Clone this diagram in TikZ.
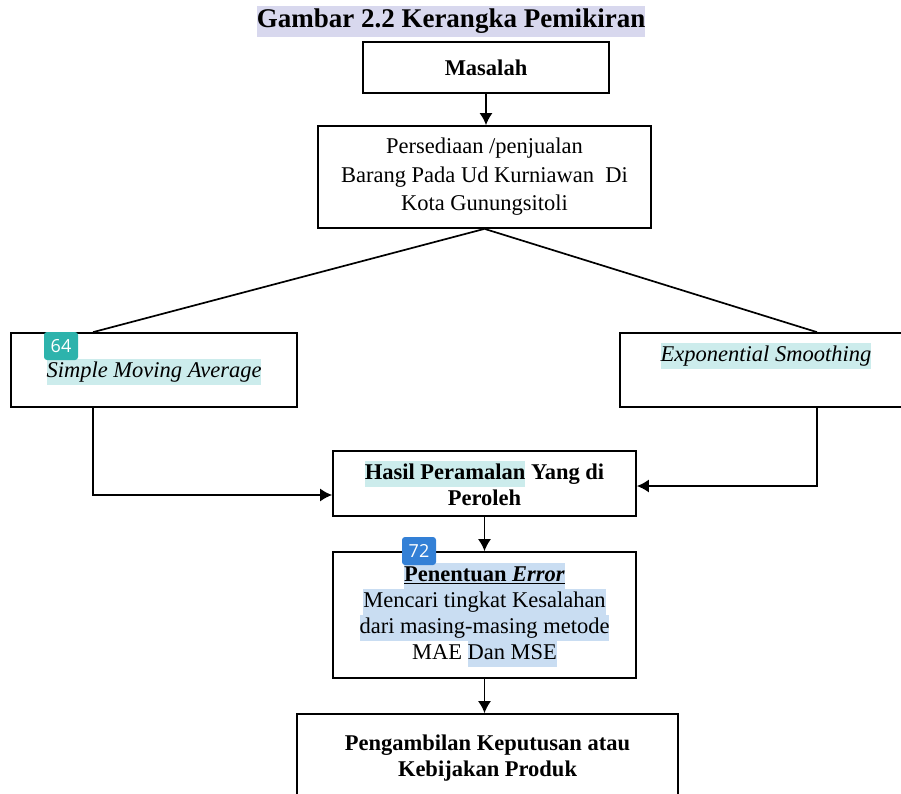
\documentclass[tikz,border=0pt]{standalone}
\usepackage{fontspec}
\setmainfont{Liberation Serif}
\newfontfamily\badgefont{Open Sans}
\usetikzlibrary{arrows.meta}

\definecolor{titlehl}{HTML}{D8D8EE}
\definecolor{tealhl}{HTML}{CCECEC}
\definecolor{bluehl}{HTML}{C9DDF2}
\definecolor{tealbadge}{HTML}{2DB3AC}
\definecolor{bluebadge}{HTML}{3380D6}
\newcommand\hlbox[2]{{\setlength\fboxsep{0pt}\colorbox{#1}{\strut #2}}}

\begin{document}
\begin{tikzpicture}[x=1pt,y=-1pt,
  box/.style={draw,line width=1.7pt,inner sep=0pt,align=center},
  arr/.style={-{Latex[length=12pt,width=13pt]},line width=1.7pt},
  ln/.style={line width=1.7pt},
  badge/.style={fill=#1,text=white,rounded corners=3pt,inner sep=0pt,
    minimum width=34pt,minimum height=28pt,font=\badgefont\fontsize{18}{18}\selectfont}]

  \fontsize{22.5}{26}\selectfont

  \useasboundingbox (0,0) rectangle (901,793);
  \clip (0,0) rectangle (901,793);

  \node (title) at (451,21) {\fontsize{27}{31}\selectfont\bfseries\hlbox{titlehl}{Gambar 2.2 Kerangka Pemikiran}};

  \node[box,minimum width=246,minimum height=51] (masalah) at (486,67.5) {\textbf{Masalah}};
  \node[box,minimum width=333,minimum height=102,font=\fontsize{22.5}{28.5}\selectfont] (stok) at (484.5,177)
    {Persediaan /penjualan\\Barang Pada Ud Kurniawan~ Di\\Kota Gunungsitoli};

  \node[box,minimum width=286,minimum height=74] (sma) at (154,370) {};
  \node (smatext) at (154,372) {\hlbox{tealhl}{\itshape Simple Moving Average}};
  \node[box,minimum width=292,minimum height=74] (es) at (766,370) {};
  \node (estext) at (766,356) {\hlbox{tealhl}{\itshape Exponential Smoothing}};

  \node[box,minimum width=303,minimum height=65] (hasil) at (484.5,483.5)
    {\textbf{\hlbox{tealhl}{Hasil Peramalan} Yang di}\\\textbf{Peroleh}};
  \node[box,minimum width=303,minimum height=126] (error) at (484.5,615)
    {\hlbox{bluehl}{\underline{\textbf{Penentuan \textit{Error}}}}\\
     \hlbox{bluehl}{Mencari tingkat Kesalahan}\\
     \hlbox{bluehl}{dari masing-masing metode}\\
     MAE \hlbox{bluehl}{Dan MSE}};
  \node[box,minimum width=381,minimum height=88] (putusan) at (487.5,758)
    {\textbf{Pengambilan Keputusan atau}\\\textbf{Kebijakan Produk}};

  \node[badge=tealbadge] (b64) at (61,346) {64};
  \node[badge=bluebadge] (b72) at (419,551) {72};

  \draw[arr] (masalah.south) -- (masalah.south |- stok.north);
  \draw[ln] (stok.south) -- ([xshift=-61pt]sma.north);
  \draw[ln] (stok.south) -- ([xshift=51pt]es.north);
  \draw[arr] ([xshift=-61pt]sma.south) |- ([yshift=-11.5pt]hasil.west);
  \draw[arr] ([xshift=51pt]es.south) |- ([yshift=-2.5pt]hasil.east);
  \draw[arr] (hasil) -- (error);
  \draw[arr] (error.south) -- (error.south |- putusan.north);

\end{tikzpicture}
\end{document}
